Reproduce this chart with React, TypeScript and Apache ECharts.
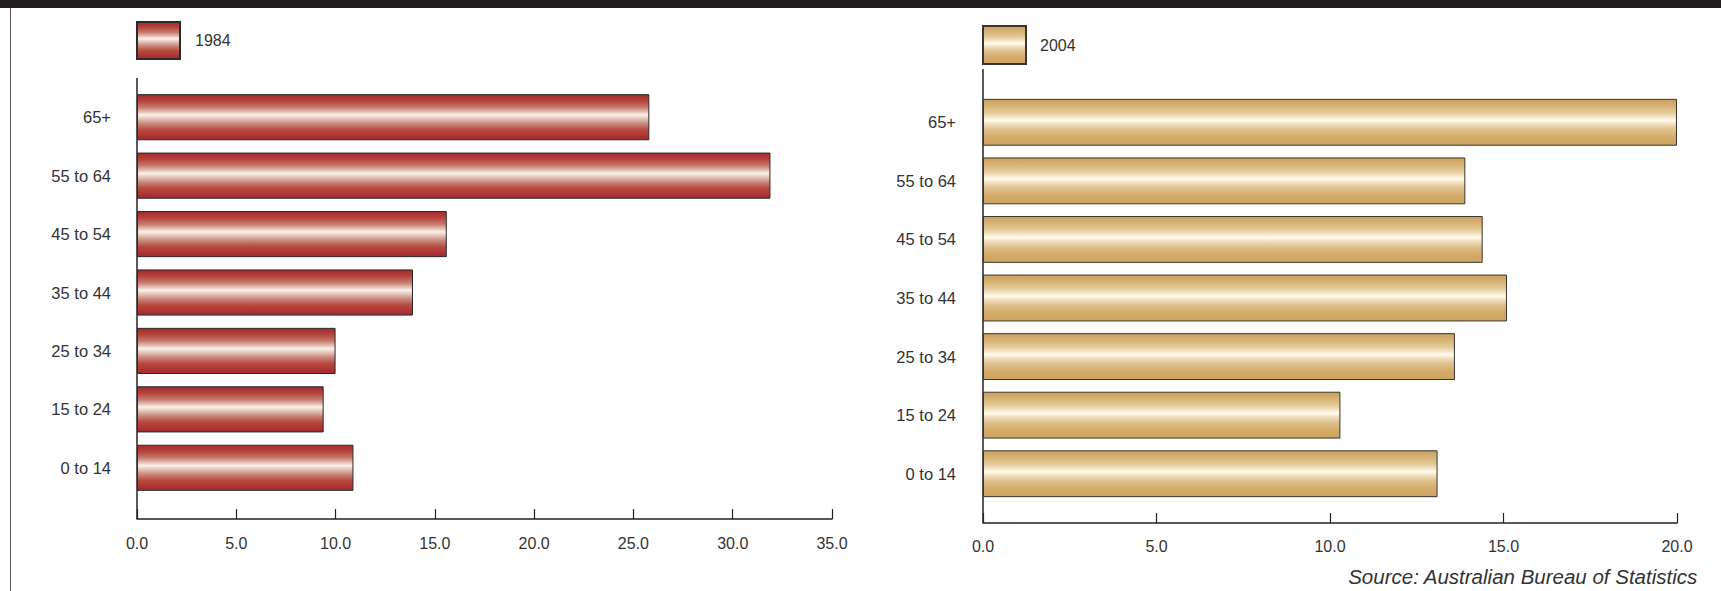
import React, { useEffect, useRef } from "react";
import * as echarts from "echarts";

const categories = ["0 to 14", "15 to 24", "25 to 34", "35 to 44", "45 to 54", "55 to 64", "65+"];
const values1984 = [10.9, 9.4, 10.0, 13.9, 15.6, 31.9, 25.8];
const values2004 = [13.1, 10.3, 13.6, 15.1, 14.4, 13.9, 20.0];
const seriesNames = ["1984", "2004"];
const xMax1984 = 35;
const xMax2004 = 20;
const sourceText = "Source: Australian Bureau of Statistics";

const FONT = "'Liberation Sans', Arial, Helvetica, sans-serif";

const redGradient = () =>
  new echarts.graphic.LinearGradient(0, 0, 0, 1, [
    { offset: 0, color: "#a3282d" },
    { offset: 0.14, color: "#b5443d" },
    { offset: 0.28, color: "#c8796d" },
    { offset: 0.38, color: "#e2bfb4" },
    { offset: 0.45, color: "#fbf1ea" },
    { offset: 0.53, color: "#e6c6bc" },
    { offset: 0.64, color: "#c98a80" },
    { offset: 0.78, color: "#b8493f" },
    { offset: 1, color: "#a3282f" },
  ]);

const goldGradient = () =>
  new echarts.graphic.LinearGradient(0, 0, 0, 1, [
    { offset: 0, color: "#c9a05f" },
    { offset: 0.14, color: "#d6b273" },
    { offset: 0.28, color: "#e3c896" },
    { offset: 0.38, color: "#f2e4c4" },
    { offset: 0.46, color: "#fffbec" },
    { offset: 0.54, color: "#efdfbe" },
    { offset: 0.66, color: "#dfc08c" },
    { offset: 0.82, color: "#d4ac6a" },
    { offset: 1, color: "#cda462" },
  ]);

export default function App() {
  const ref = useRef<HTMLDivElement>(null);

  useEffect(() => {
    if (!ref.current) return;
    const chart = echarts.init(ref.current, null, { renderer: "svg" });

    const axisLabelStyle = { color: "#333", fontSize: 16, fontFamily: FONT };

    const option: any = {
      animation: false,
      backgroundColor: "#fff",
      legend: [
        {
          data: [seriesNames[0]],
          left: 136,
          top: 21,
          padding: 0,
          itemWidth: 43,
          itemHeight: 37,
          icon: "rect",
          textStyle: { color: "#333", fontSize: 16, fontFamily: FONT, padding: [0, 0, 0, 10] },
        },
        {
          data: [seriesNames[1]],
          left: 982,
          top: 25,
          padding: 0,
          itemWidth: 43,
          itemHeight: 38,
          icon: "rect",
          textStyle: { color: "#333", fontSize: 16, fontFamily: FONT, padding: [0, 0, 0, 9] },
        },
      ],
      grid: [
        { left: 137, top: 88, width: 695, height: 409 },
        { left: 983, top: 93, width: 694, height: 410 },
      ],
      xAxis: [
        {
          gridIndex: 0,
          type: "value",
          min: 0,
          max: xMax1984,
          interval: 5,
          offset: 22,
          axisLine: { show: true, lineStyle: { color: "#222", width: 1.5 } },
          axisTick: { show: true, inside: true, length: 10, lineStyle: { color: "#222", width: 1.2 } },
          splitLine: { show: false },
          axisLabel: { ...axisLabelStyle, margin: 16, formatter: (v: number) => v.toFixed(1) },
        },
        {
          gridIndex: 1,
          type: "value",
          min: 0,
          max: xMax2004,
          interval: 5,
          offset: 20,
          axisLine: { show: true, lineStyle: { color: "#222", width: 1.5 } },
          axisTick: { show: true, inside: true, length: 10, lineStyle: { color: "#222", width: 1.2 } },
          splitLine: { show: false },
          axisLabel: { ...axisLabelStyle, margin: 15, formatter: (v: number) => v.toFixed(1) },
        },
      ],
      yAxis: [
        {
          gridIndex: 0,
          type: "category",
          data: categories,
          axisLine: { show: false },
          axisTick: { show: false },
          axisLabel: { ...axisLabelStyle, fontSize: 16.5, margin: 26 },
        },
        {
          gridIndex: 1,
          type: "category",
          data: categories,
          axisLine: { show: false },
          axisTick: { show: false },
          axisLabel: { ...axisLabelStyle, fontSize: 16.5, margin: 27 },
        },
      ],
      series: [
        {
          name: seriesNames[0],
          type: "bar",
          xAxisIndex: 0,
          yAxisIndex: 0,
          data: values1984,
          barCategoryGap: "21%",
          itemStyle: { color: redGradient(), borderColor: "#2b2b2b", borderWidth: 1 },
        },
        {
          name: seriesNames[1],
          type: "bar",
          xAxisIndex: 1,
          yAxisIndex: 1,
          data: values2004,
          barCategoryGap: "20%",
          itemStyle: { color: goldGradient(), borderColor: "#3a3530", borderWidth: 1 },
        },
      ],
      graphic: [
        { type: "rect", shape: { x: 0, y: 0, width: 1721, height: 8 }, style: { fill: "#221e1d" } },
        { type: "line", shape: { x1: 10.5, y1: 8, x2: 10.5, y2: 591 }, style: { stroke: "#555", lineWidth: 1 } },
        { type: "line", shape: { x1: 137, y1: 78, x2: 137, y2: 519 }, style: { stroke: "#222", lineWidth: 1.5 } },
        { type: "line", shape: { x1: 983, y1: 69, x2: 983, y2: 523 }, style: { stroke: "#222", lineWidth: 1.5 } },
        {
          type: "text",
          right: 23,
          top: 566,
          style: {
            text: sourceText,
            fill: "#333",
            font: `italic 20.5px ${FONT}`,
          },
        },
      ],
    };

    chart.setOption(option);
    return () => chart.dispose();
  }, []);

  return (
    <div
      ref={ref}
      style={{ position: "absolute", left: 0, top: 0, width: 1721, height: 591 }}
    />
  );
}
